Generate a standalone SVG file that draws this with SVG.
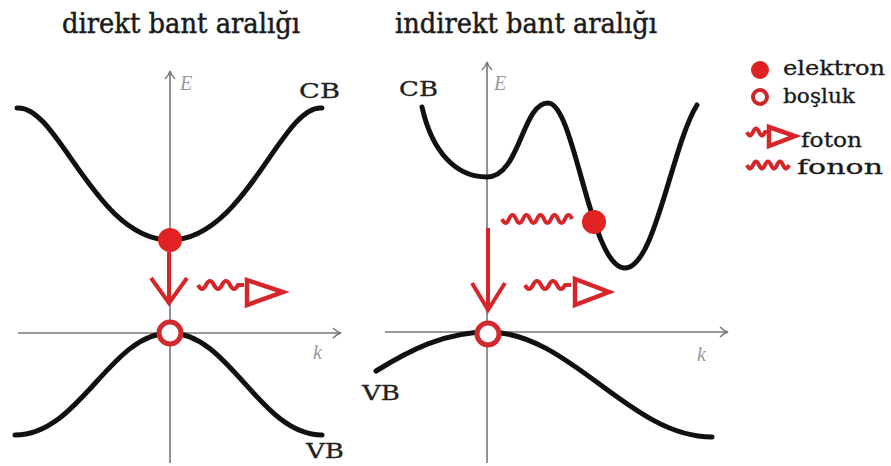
<svg xmlns="http://www.w3.org/2000/svg" width="891" height="466" viewBox="0 0 891 466">
<style>
.title{font-family:"DejaVu Serif","Liberation Serif",serif;font-size:27px;fill:#1a1a1a;stroke:#1a1a1a;stroke-width:0.5}
.lbl{font-family:"DejaVu Serif","Liberation Serif",serif;font-size:21px;fill:#222;stroke:#222;stroke-width:0.3}
.leg{font-family:"DejaVu Serif","Liberation Serif",serif;font-size:20px;fill:#1a1a1a;stroke:#1a1a1a;stroke-width:0.3}
.ax{font-family:"Liberation Serif",serif;font-style:italic;font-size:20px;fill:#999}
.axis{stroke:#777;stroke-width:1.6;fill:none}
.band{stroke:#111;stroke-width:5;fill:none;stroke-linecap:round}
.wave{stroke:#d7262b;stroke-width:4;fill:none;stroke-linejoin:round}
.tri{stroke:#d7262b;stroke-width:4.5;fill:#fff;stroke-linejoin:miter}
.el{fill:#e02222}
.hole{fill:#fff;stroke:#d02a2e;stroke-width:5}
.arr{stroke:#d7262b;stroke-width:4;fill:none}
</style>
<defs>
<marker id="ah" markerWidth="12" markerHeight="12" refX="9" refY="6" orient="auto" markerUnits="userSpaceOnUse">
<path d="M2,1 Q6,5 10,6 Q6,7 2,11" fill="none" stroke="#777" stroke-width="1.4"/>
</marker>
</defs>
<rect width="891" height="466" fill="#fff"/>

<g id="titles">
<text class="title" x="62" y="33" textLength="238" lengthAdjust="spacingAndGlyphs">direkt bant aralığı</text>
<text class="title" x="395" y="33" textLength="262" lengthAdjust="spacingAndGlyphs">indirekt bant aralığı</text>
</g>

<g id="axes">
<line class="axis" x1="170" y1="463" x2="170" y2="72" marker-end="url(#ah)"/>
<line class="axis" x1="18" y1="333" x2="340" y2="333" marker-end="url(#ah)"/>
<line class="axis" x1="487" y1="463" x2="487" y2="63" marker-end="url(#ah)"/>
<line class="axis" x1="385" y1="332" x2="727" y2="332" marker-end="url(#ah)"/>
<text class="ax" x="180" y="90">E</text>
<text class="ax" x="313" y="359">k</text>
<text class="ax" x="494" y="90">E</text>
<text class="ax" x="697" y="361">k</text>
</g>

<g id="left-bands">
<path class="band" d="M17,108 C58,104 95,240 170,240 C245,240 282,104 322,108"/>
<path class="band" d="M15,435 C80,435 110,333 170,333 C230,333 260,435 322,435"/>
<text class="lbl" x="299" y="98" textLength="41" lengthAdjust="spacingAndGlyphs">CB</text>
<text class="lbl" x="306" y="458" textLength="38" lengthAdjust="spacingAndGlyphs">VB</text>
</g>

<g id="right-bands">
<path class="band" d="M422,107 C432,152 456,177 487,177 C520,177 522,103 548,103 C575,103 590,268 625,268 C655,268 672,145 697,105"/>
<path class="band" d="M376,371 C410,350 445,332 488,332 C570,332 630,437 712,437"/>
<text class="lbl" x="399" y="96" textLength="39" lengthAdjust="spacingAndGlyphs">CB</text>
<text class="lbl" x="362" y="400" textLength="38" lengthAdjust="spacingAndGlyphs">VB</text>
</g>

<g id="left-transition">
<line class="arr" x1="169" y1="252" x2="169" y2="303"/>
<polyline class="arr" points="151,278 169,303 187,278"/>
<path class="wave" d="M198,285 q4,8 8,0 t8,0 t8,0 t8,0 t8,0 l6,0"/>
<polygon class="tri" points="247,280 247,305 283,292"/>
<circle class="el" cx="170" cy="240" r="12"/>
<circle class="hole" cx="170" cy="333" r="11"/>
</g>

<g id="right-transition">
<line class="arr" x1="488" y1="228" x2="488" y2="307"/>
<polyline class="arr" points="472,283 488,310 505,283"/>
<path class="wave" d="M502,219 q3.5,8 7,0 t7,0 t7,0 t7,0 t7,0 t7,0 t7,0 t7,0 t7,0 t7,0"/>
<path class="wave" d="M525,285 q4,8 8,0 t8,0 t8,0 t8,0 t8,0 l6,0"/>
<polygon class="tri" points="575,279 575,305 609,292"/>
<circle class="el" cx="594" cy="222" r="12"/>
<circle class="hole" cx="488" cy="334" r="11"/>
</g>

<g id="legend">
<circle class="el" cx="760" cy="70" r="9"/>
<text class="leg" x="783" y="75" textLength="102" lengthAdjust="spacingAndGlyphs">elektron</text>
<circle cx="760" cy="97" r="7" fill="#fff" stroke="#c8282a" stroke-width="4"/>
<text class="leg" x="783" y="103" textLength="72" lengthAdjust="spacingAndGlyphs">boşluk</text>
<path class="wave" d="M747,132 q3,7 6,0 t6,0 t6,0 l3,0"/>
<polygon class="tri" points="769,127 769,146 795,136"/>
<text class="leg" x="801" y="147" textLength="61" lengthAdjust="spacingAndGlyphs">foton</text>
<path class="wave" d="M747,165 q3,7 6,0 t6,0 t6,0 t6,0 t6,0 t6,0 t6,0"/>
<text class="leg" x="797" y="174" textLength="86" lengthAdjust="spacingAndGlyphs">fonon</text>
</g>
</svg>
